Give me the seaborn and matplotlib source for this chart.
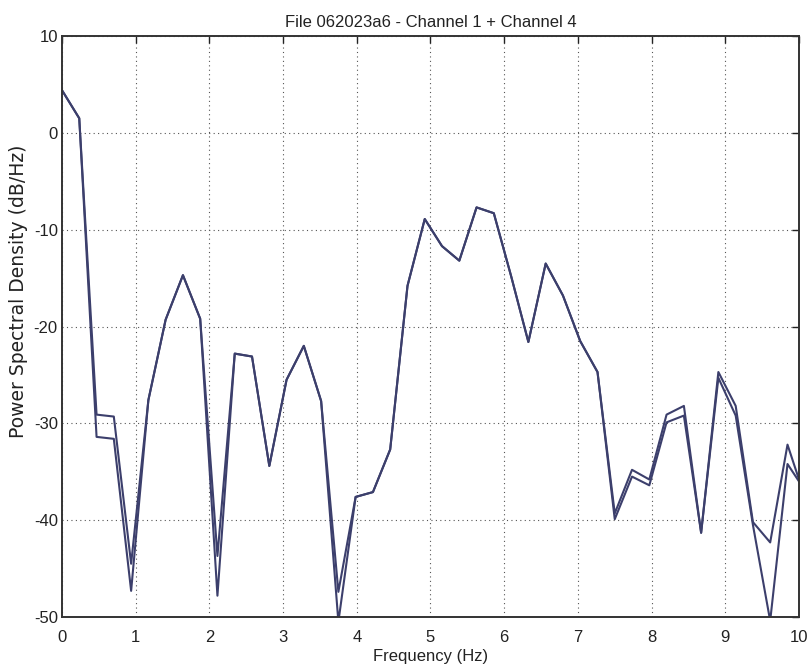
import matplotlib
matplotlib.use("Agg")
import matplotlib.pyplot as plt
import seaborn as sns
import pandas as pd

freq_hz = [0.000, 0.234, 0.469, 0.703, 0.938, 1.172, 1.406, 1.641, 1.875, 2.109,
           2.344, 2.578, 2.813, 3.047, 3.281, 3.516, 3.750, 3.984, 4.219, 4.453,
           4.688, 4.922, 5.156, 5.391, 5.625, 5.859, 6.094, 6.328, 6.563, 6.797,
           7.031, 7.266, 7.500, 7.734, 7.969, 8.203, 8.438, 8.672, 8.906, 9.141,
           9.375, 9.609, 9.844, 10.078]

channel1 = [4.4, 1.5, -29.1, -29.3, -44.5, -27.6, -19.3, -14.7, -19.2, -43.7,
            -22.8, -23.1, -34.4, -25.5, -22.0, -27.7, -47.4, -37.6, -37.1, -32.7,
            -15.8, -8.9, -11.7, -13.2, -7.7, -8.3, -14.8, -21.6, -13.5, -16.8,
            -21.5, -24.7, -39.3, -34.8, -35.8, -29.1, -28.2, -41.3, -24.7, -28.2,
            -40.2, -42.3, -32.2, -37.6]

channel4 = [4.4, 1.5, -31.4, -31.6, -47.3, -27.6, -19.3, -14.7, -19.2, -47.8,
            -22.8, -23.1, -34.4, -25.5, -22.0, -27.7, -50.5, -37.6, -37.1, -32.7,
            -15.8, -8.9, -11.7, -13.2, -7.7, -8.3, -14.8, -21.6, -13.5, -16.8,
            -21.5, -24.7, -39.9, -35.5, -36.4, -29.9, -29.2, -41.3, -25.3, -29.2,
            -40.5, -50.4, -34.2, -36.9]

x_ticks = [0, 1, 2, 3, 4, 5, 6, 7, 8, 9, 10]
y_ticks = [-50, -40, -30, -20, -10, 0, 10]

title = "File 062023a6 - Channel 1 + Channel 4"
xlabel = "Frequency (Hz)"
ylabel = "Power Spectral Density (dB/Hz)"

sns.set_style("white")
plt.rcParams['font.family'] = ['Liberation Sans', 'DejaVu Sans']

df = pd.DataFrame({
    "f": freq_hz * 2,
    "psd": channel1 + channel4,
    "ch": ["Channel 1"] * len(freq_hz) + ["Channel 4"] * len(freq_hz),
})

fig = plt.figure(figsize=(8.12, 6.70), dpi=100)
ax = fig.add_axes([62 / 812, 1 - 617 / 670, (799 - 62) / 812, (617 - 36) / 670])

line_color = "#3c3f6c"
sns.lineplot(data=df, x="f", y="psd", hue="ch", units="ch", estimator=None,
             palette=[line_color, line_color], linewidth=1.5, legend=False,
             sort=False, ax=ax)

ax.set_xlim(0, 10)
ax.set_ylim(-50, 10)
ax.set_xticks(x_ticks)
ax.set_yticks(y_ticks)
ax.set_xticklabels([str(t) for t in x_ticks])
ax.set_yticklabels([str(t) for t in y_ticks])

ax.grid(True, linestyle=(0, (1, 3)), color="#555555", linewidth=0.8)
ax.set_axisbelow(True)
for s in ax.spines.values():
    s.set_color("#333333")
    s.set_linewidth(1.4)
    s.set_visible(True)

ax.tick_params(direction="in", length=5, width=1, top=True, right=True,
               labelsize=12, colors="#222222")
ax.tick_params(axis="x", pad=9.5)
ax.tick_params(axis="y", pad=3)

ax.set_title(title, fontsize=12, color="#222222", pad=6.8)
ax.set_xlabel(xlabel, fontsize=12, color="#222222", labelpad=3)
ax.set_ylabel(ylabel, fontsize=13.5, color="#222222", family=["DejaVu Sans"])
ax.yaxis.set_label_coords(-0.0461, 0.561)

fig.savefig("out.png", dpi=100)
